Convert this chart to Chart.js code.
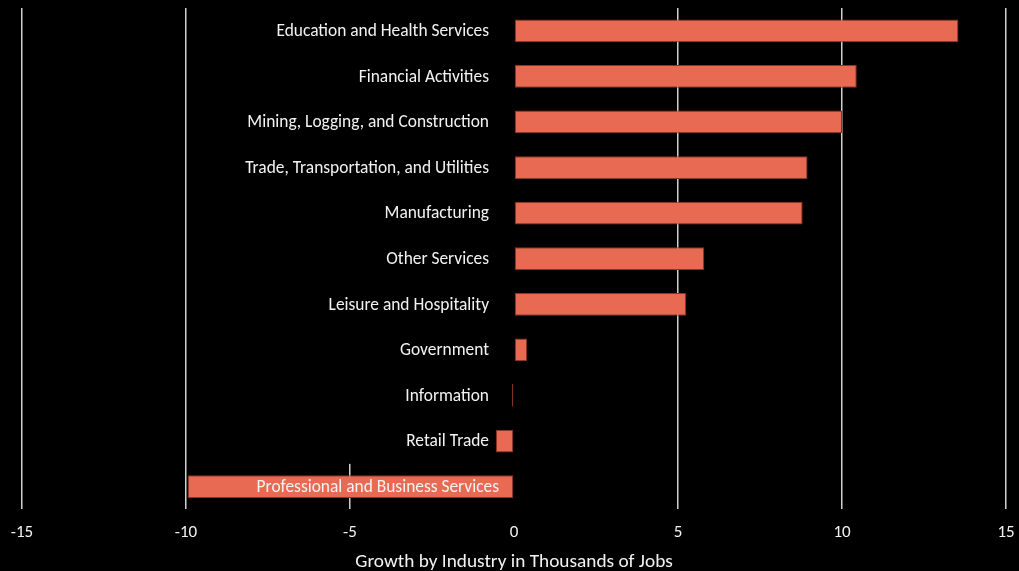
<!DOCTYPE html>
<html>
<head>
<meta charset="utf-8">
<style>
  html, body { margin: 0; padding: 0; background: #000; }
  #wrap { width: 1019px; height: 571px; }
</style>
<script src="https://cdn.jsdelivr.net/npm/chart.js@4.4.1/dist/chart.umd.min.js"></script>
</head>
<body>
<div id="wrap"><canvas id="chart" width="1019" height="571"></canvas></div>
<script>
// Job growth by industry, thousands of jobs
const industries = [
  'Education and Health Services',
  'Financial Activities',
  'Mining, Logging, and Construction',
  'Trade, Transportation, and Utilities',
  'Manufacturing',
  'Other Services',
  'Leisure and Hospitality',
  'Government',
  'Information',
  'Retail Trade',
  'Professional and Business Services'
];
const jobGrowth = [13.55, 10.45, 10.0, 8.95, 8.8, 5.8, 5.25, 0.4, -0.06, -0.55, -9.95];
const xTicks = [-15, -10, -5, 0, 5, 10, 15];
const axisTitle = 'Growth by Industry in Thousands of Jobs';

const FONT = 'Calibri, Carlito, Lato, "Open Sans", sans-serif';
const TEXT = '#f2f2f2';

// Black panel behind the category labels, painted over the grid
const labelPanel = {
  id: 'labelPanel',
  beforeDatasetsDraw(chart) {
    const { ctx, chartArea, scales } = chart;
    const x = scales.x, y = scales.y;
    const left = x.getPixelForValue(-10) + 1.5;
    const right = x.getPixelForValue(0) + 1.5;
    const n = industries.length;
    const bottom = (y.getPixelForValue(n - 2) + y.getPixelForValue(n - 1)) / 2;
    ctx.save();
    ctx.fillStyle = '#000';
    ctx.fillRect(left, chartArea.top - 1, right - left, bottom - chartArea.top + 1);
    ctx.restore();
  }
};

// Category names written beside the zero line
const categoryLabels = {
  id: 'categoryLabels',
  afterDatasetsDraw(chart) {
    const { ctx, scales } = chart;
    const x = scales.x, y = scales.y;
    const zero = x.getPixelForValue(0);
    ctx.save();
    ctx.font = '17.4px ' + FONT;
    ctx.fillStyle = TEXT;
    ctx.textAlign = 'right';
    ctx.textBaseline = 'middle';
    industries.forEach((name, i) => {
      const w = ctx.measureText(name).width;
      const barEnd = x.getPixelForValue(jobGrowth[i]);
      const inside = barEnd < zero - 25 - w;
      const tx = zero - (inside ? 15 : 25);
      ctx.fillText(name, tx, y.getPixelForValue(i) + 1);
    });
    ctx.restore();
  }
};

new Chart(document.getElementById('chart'), {
  type: 'bar',
  data: {
    labels: industries,
    datasets: [{
      data: jobGrowth,
      backgroundColor: '#e86a53',
      borderColor: '#8a3424',
      borderWidth: 1,
      borderSkipped: false,
      barPercentage: 0.5,
      categoryPercentage: 1.0
    }]
  },
  plugins: [labelPanel, categoryLabels],
  options: {
    indexAxis: 'y',
    responsive: false,
    animation: false,
    devicePixelRatio: 1,
    layout: { padding: { left: 22, right: 13, top: 8, bottom: -3 } },
    plugins: {
      legend: { display: false },
      tooltip: { enabled: false }
    },
    scales: {
      x: {
        type: 'linear',
        min: -15,
        max: 15,
        afterBuildTicks(scale) {
          scale.ticks = xTicks.map(v => ({ value: v }));
        },
        afterFit(scale) {
          scale.paddingLeft = 0;
          scale.paddingRight = 0;
        },
        border: { display: false },
        grid: {
          color: ctx => (ctx.tick && ctx.tick.value === 0) ? 'rgba(0,0,0,0)' : '#d0d0d0',
          lineWidth: 1.5,
          drawTicks: false
        },
        ticks: {
          color: TEXT,
          font: { family: FONT, size: 17 },
          padding: 13,
          maxRotation: 0
        },
        title: {
          display: true,
          text: axisTitle,
          color: TEXT,
          font: { family: FONT, size: 19.3 },
          padding: { top: -5, bottom: 0 }
        }
      },
      y: {
        type: 'category',
        display: false,
        grid: { display: false }
      }
    }
  }
});
</script>
</body>
</html>
